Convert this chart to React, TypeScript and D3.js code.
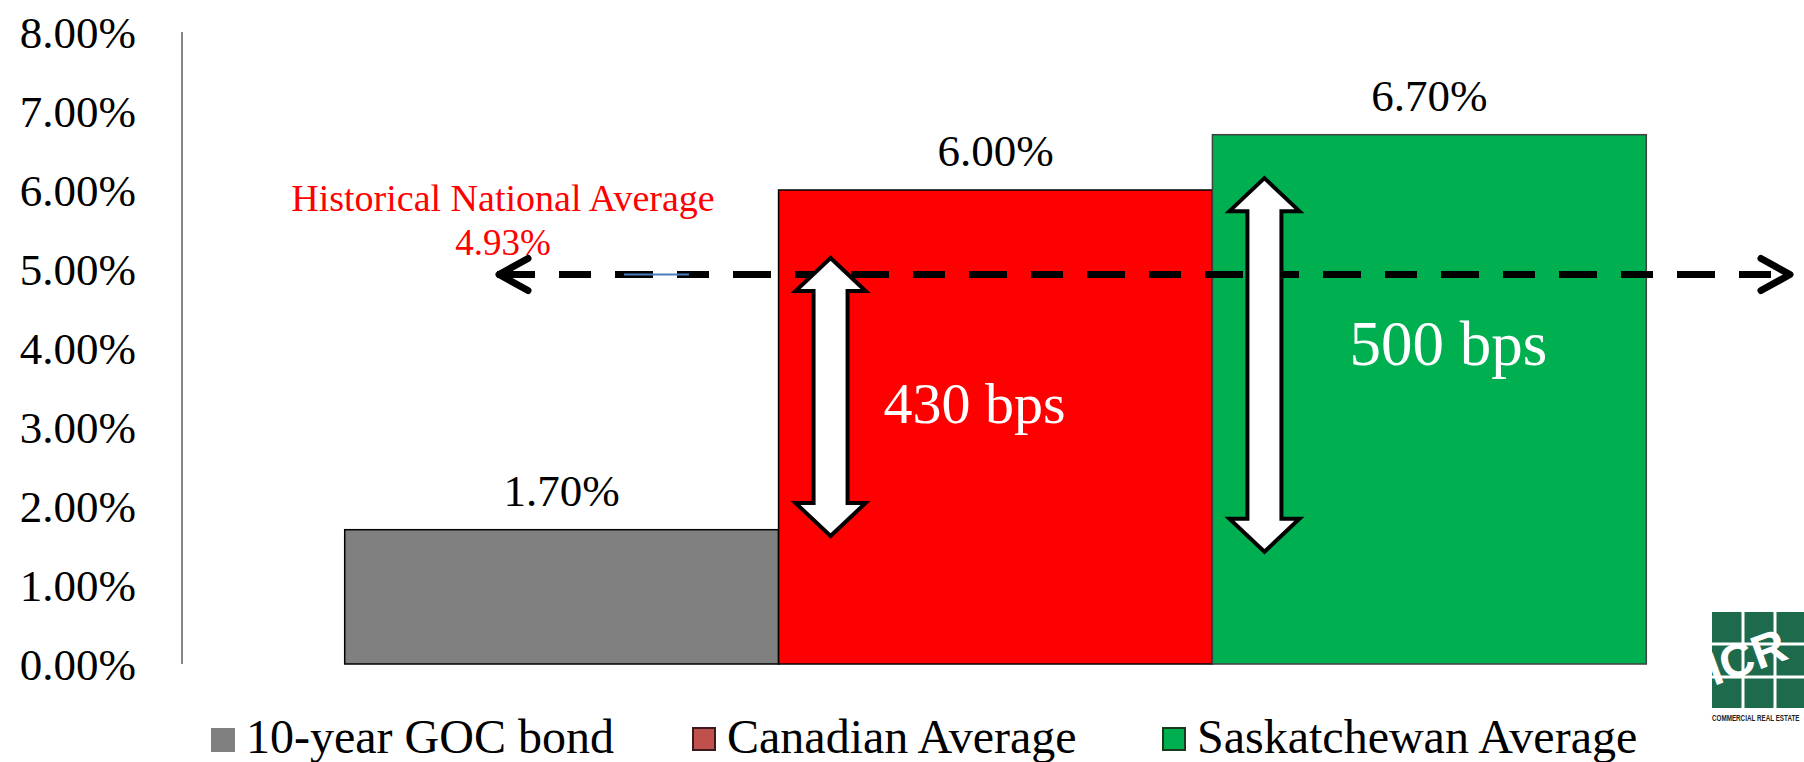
import React from "react";
import * as d3 from "d3";

// Cap rate comparison data
const categories = ["10-year GOC bond", "Canadian Average", "Saskatchewan Average"];
const values = [1.7, 6.0, 6.7];
const barColors = ["#808080", "#FF0000", "#00B050"];
const barStrokes = ["#000000", "#000000", "#404040"];
const legendFills = ["#808080", "#C0504D", "#00B050"];
const legendStrokes = ["#808080", "#3a1a1a", "#1a3a1a"];
const yTicks = [0, 1, 2, 3, 4, 5, 6, 7, 8];

// Historical national average reference line
const historicalAverage = 4.93;

// Spread annotations: bar index, arrow top/bottom (in %), label
const spreadLabels = ["430 bps", "500 bps"];
const spreadBars = [1, 2];
const spreadArrowTop = [5.14, 6.15];
const spreadArrowBottom = [1.62, 1.42];

const W = 1804;
const H = 762;
const SERIF = "'Liberation Serif', 'Times New Roman', serif";
const SANS = "'Liberation Sans', Arial, sans-serif";

function doubleArrowPath(cx: number, yTop: number, yBot: number) {
  const headHalf = 35;
  const shaftHalf = 17;
  const headH = 33;
  return [
    `M${cx},${yTop}`,
    `L${cx + headHalf},${yTop + headH}`,
    `L${cx + shaftHalf},${yTop + headH}`,
    `L${cx + shaftHalf},${yBot - headH}`,
    `L${cx + headHalf},${yBot - headH}`,
    `L${cx},${yBot}`,
    `L${cx - headHalf},${yBot - headH}`,
    `L${cx - shaftHalf},${yBot - headH}`,
    `L${cx - shaftHalf},${yTop + headH}`,
    `L${cx - headHalf},${yTop + headH}`,
    "Z",
  ].join(" ");
}

export default function App() {
  const y = d3.scaleLinear().domain([0, 8]).range([664, 32]);
  const x = d3
    .scaleBand<string>()
    .domain(categories)
    .range([182, 1809])
    .paddingInner(0)
    .paddingOuter(0.375);
  const bw = x.bandwidth();
  const fmt = (v: number) => d3.format(".2f")(v) + "%";

  const avgY = y(historicalAverage);
  const lineLeft = 497;
  const lineRight = 1791;

  const legendX = [211, 692, 1162];

  return (
    <svg
      width={W}
      height={H}
      viewBox={`0 0 ${W} ${H}`}
      style={{ position: "absolute", left: 0, top: 0, display: "block", background: "#fff" }}
    >
      <rect x={0} y={0} width={W} height={H} fill="#ffffff" />

      {/* value axis */}
      <line x1={182} x2={182} y1={y(8)} y2={y(0)} stroke="#868686" strokeWidth={2} />
      {yTicks.map((t) => (
        <text
          key={t}
          x={136}
          y={y(t)}
          dy="0.35em"
          textAnchor="end"
          fontFamily={SERIF}
          fontSize={45}
          fill="#000"
        >
          {fmt(t)}
        </text>
      ))}

      {/* bars */}
      {categories.map((c, i) => (
        <rect
          key={c}
          x={x(c)}
          y={y(values[i])}
          width={bw}
          height={y(0) - y(values[i])}
          fill={barColors[i]}
          stroke={barStrokes[i]}
          strokeWidth={1.5}
        />
      ))}

      {/* value labels */}
      {categories.map((c, i) => (
        <text
          key={c + "-lbl"}
          x={(x(c) as number) + bw / 2}
          y={y(values[i]) - 24}
          textAnchor="middle"
          fontFamily={SERIF}
          fontSize={45}
          fill="#000"
        >
          {fmt(values[i])}
        </text>
      ))}

      {/* historical average line */}
      <text x={503} y={211} textAnchor="middle" fontFamily={SERIF} fontSize={38} fill="#FF0000">
        Historical National Average
      </text>
      <text x={503} y={255} textAnchor="middle" fontFamily={SERIF} fontSize={37} fill="#FF0000">
        {fmt(historicalAverage)}
      </text>
      <line
        x1={lineLeft}
        x2={lineRight}
        y1={avgY}
        y2={avgY}
        stroke="#000"
        strokeWidth={7}
        strokeDasharray="38 24 32 24"
      />
      <polyline
        points={`${lineLeft + 31},${avgY - 16} ${lineLeft + 2},${avgY} ${lineLeft + 31},${avgY + 16}`}
        fill="none"
        stroke="#000"
        strokeWidth={7}
        strokeLinecap="round"
        strokeLinejoin="round"
      />
      <polyline
        points={`${lineRight - 30},${avgY - 16} ${lineRight - 1},${avgY} ${lineRight - 30},${avgY + 16}`}
        fill="none"
        stroke="#000"
        strokeWidth={7}
        strokeLinecap="round"
        strokeLinejoin="round"
      />
      <line x1={624} x2={689} y1={avgY} y2={avgY} stroke="#4A7EBB" strokeWidth={2} />

      {/* spread arrows */}
      {spreadBars.map((bi, k) => {
        const c = categories[bi];
        const cx = (x(c) as number) + 52;
        return (
          <path
            key={"arr" + k}
            d={doubleArrowPath(cx, y(spreadArrowTop[k]), y(spreadArrowBottom[k]))}
            fill="#ffffff"
            stroke="#000"
            strokeWidth={4}
            strokeLinejoin="miter"
          />
        );
      })}
      <text
        x={(x(categories[1]) as number) + 105}
        y={423}
        fontFamily={SERIF}
        fontSize={58}
        fill="#ffffff"
      >
        {spreadLabels[0]}
      </text>
      <text
        x={(x(categories[2]) as number) + 137}
        y={365}
        fontFamily={SERIF}
        fontSize={63}
        fill="#ffffff"
      >
        {spreadLabels[1]}
      </text>

      {/* legend */}
      {categories.map((c, i) => (
        <g key={c + "-leg"}>
          <rect
            x={legendX[i] + (i === 0 ? 0 : 1)}
            y={728}
            width={i === 0 ? 24 : 22}
            height={i === 0 ? 24 : 22}
            fill={legendFills[i]}
            stroke={i === 0 ? "none" : legendStrokes[i]}
            strokeWidth={2}
          />
          <text x={legendX[i] + 35} y={753} fontFamily={SERIF} fontSize={48} fill="#000">
            {c}
          </text>
        </g>
      ))}

      {/* company logo */}
      <g>
        <rect x={1712} y={612} width={96} height={96} fill="#1D6B4C" />
        {[1743, 1775].map((gx) => (
          <rect key={"v" + gx} x={gx - 1.5} y={612} width={3} height={96} fill="#ffffff" />
        ))}
        {[644, 677].map((gy) => (
          <rect key={"h" + gy} x={1712} y={gy - 1.5} width={96} height={3} fill="#ffffff" />
        ))}
        <text
          x={1714}
          y={686}
          fontFamily={SANS}
          fontWeight={900}
          fontSize={47}
          fill="#ffffff"
          transform="rotate(-20 1714 686)"
        >
          ICR
        </text>
        <g transform="translate(1712,721) scale(0.74,1)">
          <text x={0} y={0} fontFamily={SANS} fontWeight={700} fontSize={8.5} fill="#222">
            COMMERCIAL REAL ESTATE
          </text>
        </g>
      </g>
    </svg>
  );
}
